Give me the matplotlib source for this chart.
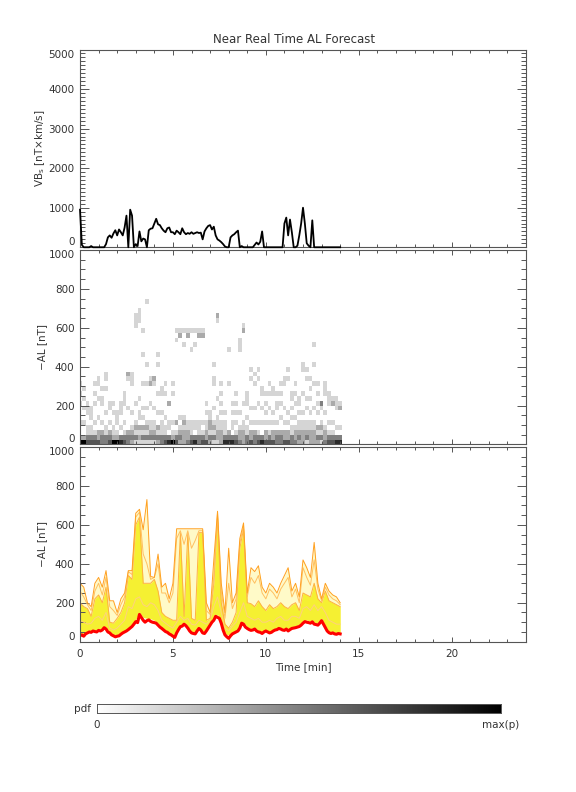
import numpy as np
import matplotlib
matplotlib.use('Agg')
import matplotlib.pyplot as plt
from matplotlib.ticker import MultipleLocator

# time grids [min]
t_fine = np.arange(141) / 10.0   # 0.1 min steps (VBs, median AL)
t_ens = np.arange(71) / 5.0      # 0.2 min steps (ensemble members)

# solar wind driver VBs [nT x km/s]
vbs = [950, 60, 0, 0, 0, 0, 30, 0, 0, 0,
       0, 0, 0, 0, 80, 250, 300, 240, 350, 430,
       300, 450, 380, 300, 500, 800, 0, 950, 800, 0,
       80, 30, 400, 150, 220, 200, 0, 430, 470, 480,
       600, 720, 580, 560, 480, 420, 380, 480, 500, 380,
       380, 330, 420, 380, 330, 480, 380, 330, 360, 340,
       380, 340, 360, 380, 360, 370, 200, 400, 480, 540,
       560, 450, 520, 300, 200, 170, 130, 80, 20, 0,
       0, 250, 300, 330, 380, 420, 0, 30, 0, 0,
       0, 0, 0, 0, 60, 120, 70, 140, 400, 0,
       0, 0, 0, 0, 0, 0, 0, 0, 0, 0,
       600, 750, 300, 700, 380, 0, 0, 40, 300, 600,
       1000, 600, 100, 40, 0, 680, 0, 0, 0, 0,
       0, 0, 0, 0, 0, 0, 0, 0, 0, 0,
       0]

# median forecast -AL [nT]
al_median = [30, 35, 28, 40, 45, 50, 48, 55, 52, 50,
             58, 55, 60, 72, 65, 50, 45, 35, 30, 25,
             28, 30, 38, 45, 50, 55, 62, 70, 78, 90,
             103, 98, 140, 125, 110, 100, 108, 112, 104, 100,
             98, 95, 85, 75, 68, 60, 52, 48, 40, 35,
             28, 22, 45, 62, 77, 80, 90, 82, 70, 55,
             45, 42, 40, 55, 68, 60, 45, 42, 55, 70,
             85, 100, 110, 130, 125, 120, 95, 60, 35, 25,
             17, 30, 40, 45, 50, 55, 70, 95, 90, 75,
             68, 62, 58, 60, 65, 55, 50, 48, 42, 50,
             55, 50, 45, 48, 55, 60, 62, 68, 65, 60,
             58, 65, 55, 62, 68, 70, 72, 75, 78, 85,
             95, 103, 100, 98, 95, 102, 90, 88, 85, 95,
             108, 90, 72, 55, 46, 42, 45, 40, 38, 42,
             40]

# ensemble members -AL [nT] on the 0.2 min grid
al_m1 = [5, 4, 7, 8, 9, 10, 10, 11, 7, 5,
         4, 6, 8, 10, 13, 17, 22, 18, 17, 17,
         16, 14, 11, 9, 6, 4, 7, 12, 14, 11,
         7, 6, 11, 7, 9, 14, 18, 20, 15, 6,
         3, 6, 8, 11, 14, 11, 9, 10, 8, 7,
         9, 7, 9, 10, 10, 9, 9, 11, 12, 12,
         15, 16, 15, 14, 14, 17, 12, 7, 7, 6,
         6]
al_l1 = [8, 7, 11, 12, 13, 15, 15, 16, 11, 8,
         7, 10, 12, 16, 20, 26, 35, 28, 27, 26,
         25, 21, 17, 13, 10, 7, 11, 19, 22, 18,
         11, 10, 17, 11, 14, 21, 28, 31, 24, 9,
         4, 10, 12, 18, 22, 17, 15, 16, 12, 10,
         14, 11, 14, 16, 16, 15, 14, 17, 18, 20,
         24, 25, 24, 22, 21, 27, 18, 12, 11, 10,
         10]
al_l4 = [10, 9, 15, 16, 17, 19, 20, 21, 15, 10,
         9, 13, 17, 20, 26, 34, 46, 36, 36, 34,
         32, 28, 22, 17, 13, 9, 15, 25, 30, 23,
         15, 13, 22, 15, 18, 28, 36, 41, 31, 12,
         6, 13, 17, 23, 30, 22, 19, 21, 17, 14,
         18, 15, 18, 20, 21, 19, 18, 22, 24, 26,
         31, 33, 31, 30, 28, 36, 24, 15, 15, 13,
         13]
al_m2 = [12, 11, 18, 20, 22, 24, 25, 27, 18, 12,
         11, 15, 20, 25, 32, 42, 55, 45, 44, 42,
         40, 34, 28, 22, 16, 11, 18, 31, 36, 28,
         18, 16, 27, 18, 22, 34, 44, 50, 38, 14,
         7, 16, 20, 28, 36, 27, 23, 26, 20, 17,
         22, 18, 22, 25, 26, 23, 22, 27, 29, 31,
         38, 40, 38, 36, 34, 43, 29, 18, 18, 15,
         16]
al_l2 = [17, 15, 25, 26, 29, 32, 33, 36, 25, 17,
         15, 21, 28, 34, 43, 57, 77, 61, 59, 57,
         54, 47, 37, 29, 22, 15, 25, 42, 50, 39,
         25, 22, 37, 25, 30, 47, 61, 69, 52, 19,
         9, 22, 28, 39, 50, 37, 32, 36, 28, 23,
         30, 25, 30, 34, 36, 32, 30, 37, 40, 43,
         52, 55, 52, 50, 47, 59, 40, 25, 25, 21,
         22]
al_m3 = [22, 20, 30, 35, 38, 42, 44, 48, 32, 22,
         20, 27, 36, 44, 56, 75, 95, 80, 76, 74,
         70, 60, 48, 38, 28, 20, 32, 55, 64, 50,
         32, 28, 48, 32, 38, 60, 78, 90, 68, 25,
         26, 28, 36, 50, 64, 48, 42, 46, 36, 30,
         40, 32, 40, 44, 46, 42, 40, 48, 52, 55,
         68, 72, 68, 64, 60, 76, 52, 33, 32, 27,
         28]
al_l3 = [27, 25, 40, 43, 47, 52, 54, 58, 40, 27,
         25, 34, 45, 56, 70, 93, 126, 99, 97, 94,
         88, 77, 61, 47, 36, 25, 40, 69, 81, 63,
         40, 36, 61, 40, 50, 77, 99, 112, 86, 32,
         28, 36, 45, 63, 81, 61, 52, 58, 45, 38,
         50, 40, 50, 56, 58, 52, 50, 61, 65, 70,
         86, 90, 86, 81, 77, 97, 65, 41, 40, 34,
         36]
al_m4 = [40, 35, 50, 55, 60, 65, 68, 75, 50, 35,
         32, 42, 58, 70, 88, 115, 150, 125, 120, 118,
         110, 95, 75, 60, 45, 32, 52, 85, 100, 80,
         52, 45, 75, 52, 62, 95, 120, 140, 105, 40,
         35, 45, 58, 80, 100, 76, 66, 72, 58, 48,
         62, 52, 62, 70, 72, 65, 62, 76, 80, 88,
         105, 112, 105, 100, 95, 120, 82, 52, 50, 44,
         45]
al_m5 = [110, 100, 90, 95, 120, 130, 110, 150, 70, 60,
         70, 90, 110, 180, 170, 220, 230, 190, 180, 200,
         190, 160, 110, 95, 80, 70, 100, 130, 110, 120,
         90, 85, 110, 100, 90, 110, 180, 230, 150, 70,
         55, 80, 100, 150, 200, 130, 120, 110, 120, 100,
         100, 110, 100, 120, 130, 110, 110, 130, 130, 120,
         170, 180, 160, 190, 160, 180, 150, 110, 100, 90,
         90]
al_m6 = [200, 180, 170, 130, 220, 240, 200, 280, 100, 95,
         120, 150, 200, 340, 320, 600, 640, 300, 300, 300,
         320, 260, 150, 130, 120, 110, 110, 560, 130, 560,
         120, 110, 560, 560, 110, 120, 300, 640, 200, 90,
         70, 100, 150, 480, 580, 200, 195, 180, 210, 180,
         160, 190, 170, 180, 200, 180, 170, 190, 200, 160,
         250, 240, 230, 300, 220, 200, 260, 210, 200, 190,
         180]
al_m7 = [260, 230, 190, 160, 260, 300, 240, 330, 180, 160,
         135, 190, 230, 360, 345, 640, 665, 450, 400, 320,
         330, 400, 250, 250, 200, 250, 530, 570, 500, 570,
         480, 520, 570, 570, 160, 140, 330, 660, 260, 120,
         300, 170, 220, 505, 595, 230, 330, 300, 340, 250,
         220, 270, 250, 220, 270, 300, 330, 230, 270, 200,
         380, 330, 290, 420, 270, 210, 280, 240, 220, 210,
         190]
al_m8 = [300, 280, 200, 180, 300, 330, 280, 365, 210, 210,
         150, 220, 250, 365, 365, 660, 680, 575, 730, 335,
         330, 450, 280, 300, 220, 300, 580, 580, 580, 580,
         580, 580, 580, 580, 200, 150, 420, 670, 300, 150,
         480, 200, 250, 530, 610, 250, 380, 360, 390, 280,
         250, 300, 280, 250, 300, 340, 380, 260, 300, 230,
         420, 380, 330, 510, 300, 220, 300, 260, 240, 230,
         200]

members = [al_m1, al_l1, al_l4, al_m2, al_l2, al_m3, al_l3,
           al_m4, al_m5, al_m6, al_m7, al_m8]

AX_COL = '#555555'
TXT_COL = '#333333'
plt.rcParams['font.family'] = ['DejaVu Sans']


def style_axes(ax, ymax, ymajor, yminor, xlabels=False):
    """IDL-like box axes with inward ticks on all sides"""
    ax.set_xlim(0, 24)
    ax.set_ylim(0, ymax)
    ax.xaxis.set_major_locator(MultipleLocator(5))
    ax.xaxis.set_minor_locator(MultipleLocator(1))
    ax.set_yticks(np.arange(0, ymax + 1, ymajor))
    ax.yaxis.set_minor_locator(MultipleLocator(yminor))
    ax.tick_params(which='both', direction='in', top=True, right=True,
                   color=AX_COL, labelcolor=TXT_COL, labelsize=7.5, width=0.7)
    ax.tick_params(axis='x', which='major', length=3.4, pad=5)
    ax.tick_params(axis='x', which='minor', length=1.9)
    ax.tick_params(axis='y', which='major', length=6.8, pad=4)
    ax.tick_params(axis='y', which='minor', length=3.4)
    if not xlabels:
        ax.tick_params(axis='x', labelbottom=False)
    for sp in ax.spines.values():
        sp.set_color(AX_COL)
        sp.set_linewidth(0.8)


fig = plt.figure(figsize=(5.76, 7.92), dpi=100)
left, width = 0.1389, 0.7743
ax1 = fig.add_axes([left, 0.6878, width, 0.2497])
ax2 = fig.add_axes([left, 0.4388, width, 0.2455])
ax3 = fig.add_axes([left, 0.1898, width, 0.2458])

# --- top: VBs
ax1.plot(t_fine, vbs, color='black', lw=1.3, clip_on=False, zorder=3)
style_axes(ax1, 5000, 1000, 100)

# --- middle: pdf of the ensemble
xedges = np.arange(72) / 5.0 - 0.1
yedges = np.arange(0, 1001, 25)
counts, xe, ye = np.histogram2d(np.tile(t_ens, len(members)), np.concatenate(members),
                                bins=[xedges, yedges])
pdf = counts / counts.max()
ax2.pcolormesh(xe, ye, pdf.T, cmap='gray_r', vmin=0, vmax=1, shading='flat')
style_axes(ax2, 1000, 200, 50)

# --- bottom: ensemble spread
m4, m5, m6, m7, m8 = [np.array(a) for a in (al_m4, al_m5, al_m6, al_m7, al_m8)]
ax3.fill_between(t_ens, m4, m8, color='#FFFAC8', lw=0)
ax3.fill_between(t_ens, m4, m6, color='#F5F032', lw=0)
for a, c in zip([m5, m6, m7, m8], ['#FFD080', '#FFB040', '#FFC060', '#FFA020']):
    ax3.plot(t_ens, a, color=c, lw=0.7)
ax3.plot(t_fine, al_median, color='#FF0000', lw=2.2)
style_axes(ax3, 1000, 200, 50, xlabels=True)

# labels
fig.text(0.51, 0.9495, 'Near Real Time AL Forecast', ha='center', va='center',
         fontsize=8.5, color=TXT_COL)
fig.text(40 / 576, 0.8127, 'VB$_{\\rm s}$ [nT×km/s]', rotation=90, ha='center',
         va='center', fontsize=7.5, color=TXT_COL)
fig.text(42 / 576, 0.5616, '−AL [nT]', rotation=90, ha='center', va='center',
         fontsize=7.5, color=TXT_COL)
fig.text(42 / 576, 0.3127, '−AL [nT]', rotation=90, ha='center', va='center',
         fontsize=7.5, color=TXT_COL)
fig.text(303 / 576, 1 - 667 / 792, 'Time [min]', ha='center', va='center',
         fontsize=7.5, color=TXT_COL)

# --- colour bar
cax = fig.add_axes([97.3 / 576, 1 - 712.7 / 792, 403.7 / 576, 8.4 / 792])
cax.imshow(np.linspace(0, 1, 256)[None, :], cmap='gray_r', aspect='auto',
           extent=[0, 1, 0, 1])
cax.set_xticks([])
cax.set_yticks([])
for sp in cax.spines.values():
    sp.set_color(AX_COL)
    sp.set_linewidth(0.7)
fig.text(91 / 576, 1 - 709 / 792, 'pdf', ha='right', va='center', fontsize=7.5, color=TXT_COL)
fig.text(97 / 576, 1 - 725 / 792, '0', ha='center', va='center', fontsize=7.5, color=TXT_COL)
fig.text(501 / 576, 1 - 725 / 792, 'max(p)', ha='center', va='center', fontsize=7.5, color=TXT_COL)

# end labels sit just inside the panel, as in the IDL original
fig.canvas.draw()
for ax in (ax1, ax2, ax3):
    ticks = ax.yaxis.get_major_ticks()
    ticks[0].label1.set_va('bottom')
    ticks[-1].label1.set_va('top')

fig.savefig('out.png', dpi=100)
